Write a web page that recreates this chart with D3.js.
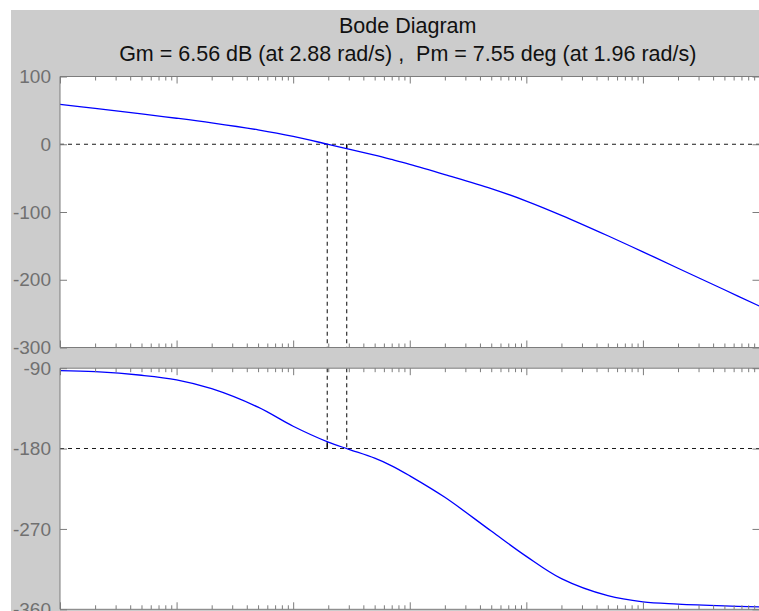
<!DOCTYPE html>
<html>
<head>
<meta charset="utf-8">
<script src="https://cdn.jsdelivr.net/npm/d3@7/dist/d3.min.js"></script>
<style>
  html, body { margin: 0; padding: 0; background: #ffffff; }
  svg { display: block; }
  text { font-family: "Liberation Sans", Arial, Helvetica, sans-serif; }
</style>
</head>
<body>
<svg id="chart" width="759" height="611"></svg>
<script>
// ---- data ----
const freqs    = [0.01, 0.02, 0.05, 0.1, 0.2, 0.5, 1, 2, 3, 5, 7, 10, 20, 50, 100, 200, 500, 1000, 2000, 5000, 10000];
const magDb    = [58.8, 52.8, 44.7, 38.4, 31.6, 21.3, 11.7, -0.2, -7.2, -16.1, -22.5, -29.6, -44.7, -65.4, -83.8, -104.9, -135.1, -158.9, -183, -214.8, -238.9];
const phaseDeg = [-92.7, -93.9, -97.9, -103.0, -112.9, -133.6, -155.0, -172.8, -180.8, -190.8, -199.3, -210.5, -234.6, -272.4, -300.7, -325.7, -344.8, -351.7, -354.1, -356.2, -357.4];
const magTicks   = [100, 0, -100, -200, -300];
const phaseTicks = [-90, -180, -270, -360];
const decades    = [0.01, 0.1, 1, 10, 100, 1000, 10000];
const titleLine1 = "Bode Diagram";
const titleLine2 = "Gm = 6.56 dB (at 2.88 rad/s) ,  Pm = 7.55 deg (at 1.96 rad/s)";
const gainMargin = 6.56, gainMarginFreq = 2.88;
const phaseMargin = 7.55, phaseMarginFreq = 1.96;

// ---- layout ----
const svg = d3.select("#chart");
const W = 759, H = 611;
const left = 60, right = 759.5;
const magTop = 76.5, magBottom = 347.5;
const phTop = 368.2, phBottom = 609.3;
const axisColor = "#7c7c7c";
const labelColor = "#707070";

svg.append("rect").attr("x", 11).attr("y", 10).attr("width", W).attr("height", H).attr("fill", "#cccccc");

const x = d3.scaleLog().domain([0.01, 10000]).range([left, right]);
const yMag = d3.scaleLinear().domain([-300, 100]).range([magBottom, magTop]);
const yPh = d3.scaleLinear().domain([-360, -90]).range([phBottom, phTop]);

const minorTicks = [];
decades.slice(0, -1).forEach(d => { for (let k = 2; k <= 9; k++) minorTicks.push(d * k); });

const defs = svg.append("defs");
defs.append("clipPath").attr("id", "clipMag").append("rect")
  .attr("x", left).attr("y", magTop).attr("width", right - left).attr("height", magBottom - magTop);
defs.append("clipPath").attr("id", "clipPh").append("rect")
  .attr("x", left).attr("y", phTop).attr("width", right - left).attr("height", phBottom - phTop);

function panel(yScale, top, bottom, clipId, refValue) {
  svg.append("rect").attr("x", left).attr("y", top).attr("width", right - left + 2).attr("height", bottom - top)
    .attr("fill", "#ffffff");
  const g = svg.append("g").attr("clip-path", `url(#${clipId})`);
  g.append("line").attr("x1", left).attr("x2", right)
    .attr("y1", yScale(refValue)).attr("y2", yScale(refValue))
    .attr("stroke", "#1a1a1a").attr("stroke-width", 1.1).attr("stroke-dasharray", "4,4");
  return g;
}

function axesFrame(yScale, top, bottom, ticks) {
  const fr = svg.append("g");
  const addX = (axisFn, yPos, vals, size) => {
    const a = fr.append("g").attr("transform", `translate(0,${yPos})`)
      .call(axisFn(x).tickValues(vals).tickSizeInner(size).tickSizeOuter(0).tickFormat(""));
    a.select(".domain").remove();
    a.selectAll("line").attr("stroke", axisColor);
  };
  addX(d3.axisBottom, top, decades, 7);
  addX(d3.axisBottom, top, minorTicks, 4);
  addX(d3.axisTop, bottom, decades, 7);
  addX(d3.axisTop, bottom, minorTicks, 4);

  const ya = fr.append("g").attr("transform", `translate(${left},0)`)
    .call(d3.axisLeft(yScale).tickValues(ticks).tickSizeInner(-7).tickSizeOuter(0).tickPadding(9).tickFormat(d => String(d)));
  ya.select(".domain").remove();
  ya.selectAll("line").attr("stroke", axisColor);
  ya.selectAll("text").attr("fill", labelColor).attr("font-size", "19px")
    .attr("font-family", "'Liberation Sans', Arial, sans-serif");
  const yr = fr.append("g").attr("transform", `translate(${right},0)`)
    .call(d3.axisRight(yScale).tickValues(ticks).tickSizeInner(-7).tickSizeOuter(0).tickFormat(""));
  yr.select(".domain").remove();
  yr.selectAll("line").attr("stroke", axisColor);

  fr.append("line").attr("x1", left).attr("x2", right + 2).attr("y1", top).attr("y2", top).attr("stroke", axisColor);
  fr.append("line").attr("x1", left).attr("x2", right + 2).attr("y1", bottom).attr("y2", bottom).attr("stroke", axisColor);
  fr.append("line").attr("x1", left).attr("x2", left).attr("y1", top).attr("y2", bottom).attr("stroke", axisColor);
}

const dashStyle = sel => sel.attr("stroke", "#1a1a1a").attr("stroke-width", 1.1).attr("stroke-dasharray", "4,3.5");
const curve = d3.curveCatmullRom.alpha(0.5);

// ---- magnitude panel ----
const gMag = panel(yMag, magTop, magBottom, "clipMag", 0);
[phaseMarginFreq, gainMarginFreq].forEach(f => {
  gMag.append("line").attr("x1", x(f)).attr("x2", x(f)).attr("y1", yMag(0)).attr("y2", magBottom).call(dashStyle);
});
gMag.append("line").attr("x1", x(gainMarginFreq)).attr("x2", x(gainMarginFreq))
  .attr("y1", yMag(0)).attr("y2", yMag(-gainMargin)).attr("stroke", "#000").attr("stroke-width", 1.2);

const magData = freqs.map((f, i) => [f, magDb[i]]);
gMag.append("path").datum(magData)
  .attr("d", d3.line().x(d => x(d[0])).y(d => yMag(d[1])).curve(curve))
  .attr("fill", "none").attr("stroke", "#0000ff").attr("stroke-width", 1.3);
axesFrame(yMag, magTop, magBottom, magTicks);

// ---- phase panel ----
const gPh = panel(yPh, phTop, phBottom, "clipPh", -180);
[phaseMarginFreq, gainMarginFreq].forEach(f => {
  gPh.append("line").attr("x1", x(f)).attr("x2", x(f)).attr("y1", phTop).attr("y2", yPh(-180)).call(dashStyle);
});
gPh.append("line").attr("x1", x(phaseMarginFreq)).attr("x2", x(phaseMarginFreq))
  .attr("y1", yPh(-180)).attr("y2", yPh(-180 + phaseMargin)).attr("stroke", "#000").attr("stroke-width", 1.2);

const phData = freqs.map((f, i) => [f, phaseDeg[i]]);
gPh.append("path").datum(phData)
  .attr("d", d3.line().x(d => x(d[0])).y(d => yPh(d[1])).curve(curve))
  .attr("fill", "none").attr("stroke", "#0000ff").attr("stroke-width", 1.3);
axesFrame(yPh, phTop, phBottom, phaseTicks);

// ---- titles ----
const cx = (left + right) / 2 - 2;
svg.append("text").attr("x", cx).attr("y", 33).attr("text-anchor", "middle")
  .attr("font-size", "21.5px").attr("fill", "#111").text(titleLine1);
svg.append("text").attr("x", cx).attr("y", 61).attr("text-anchor", "middle")
  .attr("font-size", "21.5px").attr("fill", "#111")
  .style("white-space", "pre").text(titleLine2);

// white screenshot margins
svg.append("rect").attr("x", 0).attr("y", 0).attr("width", 11).attr("height", H).attr("fill", "#ffffff");
svg.append("rect").attr("x", 0).attr("y", 0).attr("width", W).attr("height", 10).attr("fill", "#ffffff");
</script>
</body>
</html>
